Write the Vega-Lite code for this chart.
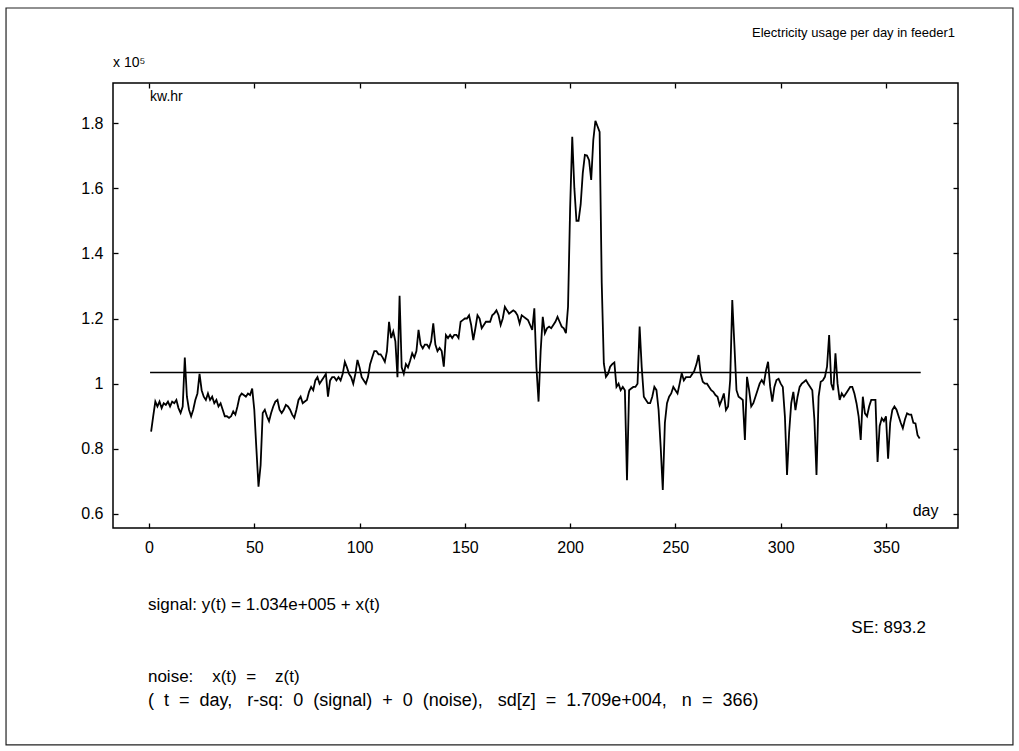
{
  "$schema": "https://vega.github.io/schema/vega-lite/v6.json",
  "autosize": "none",
  "width": 845,
  "height": 445,
  "padding": {"left": 113, "top": 83, "right": 61, "bottom": 223},
  "background": "white",
  "config": {
    "view": {"stroke": "black", "strokeWidth": 1.5},
    "font": "Liberation Sans",
    "axis": {"grid": false, "labelFont": "Liberation Sans", "labelFontSize": 16, "labelColor": "black", "tickColor": "black", "tickWidth": 1.3, "domain": false, "titleFont": "Liberation Sans", "titleFontWeight": "normal", "titleColor": "black"},
    "text": {"font": "Liberation Sans", "color": "black"}
  },
  "datasets": {
    "one": [{}],
    "usage": [
    {"day":1,"kwh":85300},{"day":2,"kwh":90000},{"day":3,"kwh":94500},{"day":4,"kwh":93000},{"day":5,"kwh":94500},{"day":6,"kwh":92500},{"day":7,"kwh":94000},{"day":8,"kwh":93500},{"day":9,"kwh":94500},{"day":10,"kwh":93000},
    {"day":11,"kwh":94500},{"day":12,"kwh":94000},{"day":13,"kwh":95000},{"day":14,"kwh":92500},{"day":15,"kwh":91000},{"day":16,"kwh":93000},{"day":17,"kwh":108000},{"day":18,"kwh":96000},{"day":19,"kwh":92000},{"day":20,"kwh":90000},
    {"day":21,"kwh":92000},{"day":22,"kwh":95000},{"day":23,"kwh":97000},{"day":24,"kwh":103000},{"day":25,"kwh":98000},{"day":26,"kwh":96000},{"day":27,"kwh":95000},{"day":28,"kwh":97000},{"day":29,"kwh":95000},{"day":30,"kwh":96000},
    {"day":31,"kwh":94000},{"day":32,"kwh":95000},{"day":33,"kwh":93000},{"day":34,"kwh":94000},{"day":35,"kwh":92000},{"day":36,"kwh":90000},{"day":37,"kwh":90000},{"day":38,"kwh":89500},{"day":39,"kwh":90000},{"day":40,"kwh":91500},
    {"day":41,"kwh":90500},{"day":42,"kwh":93000},{"day":43,"kwh":96000},{"day":44,"kwh":97000},{"day":45,"kwh":96500},{"day":46,"kwh":96000},{"day":47,"kwh":97000},{"day":48,"kwh":96500},{"day":49,"kwh":98500},{"day":50,"kwh":92000},
    {"day":51,"kwh":80000},{"day":52,"kwh":68400},{"day":53,"kwh":75000},{"day":54,"kwh":91000},{"day":55,"kwh":92000},{"day":56,"kwh":90000},{"day":57,"kwh":88500},{"day":58,"kwh":91000},{"day":59,"kwh":93000},{"day":60,"kwh":94500},
    {"day":61,"kwh":95000},{"day":62,"kwh":92000},{"day":63,"kwh":91000},{"day":64,"kwh":92000},{"day":65,"kwh":93500},{"day":66,"kwh":93000},{"day":67,"kwh":92000},{"day":68,"kwh":90500},{"day":69,"kwh":89500},{"day":70,"kwh":92000},
    {"day":71,"kwh":95000},{"day":72,"kwh":96000},{"day":73,"kwh":94000},{"day":74,"kwh":94500},{"day":75,"kwh":95000},{"day":76,"kwh":97500},{"day":77,"kwh":99000},{"day":78,"kwh":98000},{"day":79,"kwh":101000},{"day":80,"kwh":102000},
    {"day":81,"kwh":100000},{"day":82,"kwh":101000},{"day":83,"kwh":102000},{"day":84,"kwh":103000},{"day":85,"kwh":96000},{"day":86,"kwh":101000},{"day":87,"kwh":102000},{"day":88,"kwh":102000},{"day":89,"kwh":101000},{"day":90,"kwh":102000},
    {"day":91,"kwh":101000},{"day":92,"kwh":103000},{"day":93,"kwh":106700},{"day":94,"kwh":105000},{"day":95,"kwh":103000},{"day":96,"kwh":102000},{"day":97,"kwh":100000},{"day":98,"kwh":103000},{"day":99,"kwh":107300},{"day":100,"kwh":105000},
    {"day":101,"kwh":102000},{"day":102,"kwh":101000},{"day":103,"kwh":100000},{"day":104,"kwh":102000},{"day":105,"kwh":106000},{"day":106,"kwh":108000},{"day":107,"kwh":110000},{"day":108,"kwh":110000},{"day":109,"kwh":109000},{"day":110,"kwh":109000},
    {"day":111,"kwh":108000},{"day":112,"kwh":106700},{"day":113,"kwh":110000},{"day":114,"kwh":119000},{"day":115,"kwh":114000},{"day":116,"kwh":116000},{"day":117,"kwh":113000},{"day":118,"kwh":102000},{"day":119,"kwh":127000},{"day":120,"kwh":105000},
    {"day":121,"kwh":103000},{"day":122,"kwh":106000},{"day":123,"kwh":105000},{"day":124,"kwh":107000},{"day":125,"kwh":109300},{"day":126,"kwh":108000},{"day":127,"kwh":110000},{"day":128,"kwh":116500},{"day":129,"kwh":112000},{"day":130,"kwh":110800},
    {"day":131,"kwh":112000},{"day":132,"kwh":112000},{"day":133,"kwh":111000},{"day":134,"kwh":113000},{"day":135,"kwh":118500},{"day":136,"kwh":112000},{"day":137,"kwh":110000},{"day":138,"kwh":111000},{"day":139,"kwh":110000},{"day":140,"kwh":105200},
    {"day":141,"kwh":114900},{"day":142,"kwh":114000},{"day":143,"kwh":115000},{"day":144,"kwh":114000},{"day":145,"kwh":115000},{"day":146,"kwh":115000},{"day":147,"kwh":114000},{"day":148,"kwh":119000},{"day":149,"kwh":119500},{"day":150,"kwh":120000},
    {"day":151,"kwh":120000},{"day":152,"kwh":121000},{"day":153,"kwh":118000},{"day":154,"kwh":113400},{"day":155,"kwh":117000},{"day":156,"kwh":121000},{"day":157,"kwh":120000},{"day":158,"kwh":117000},{"day":159,"kwh":118000},{"day":160,"kwh":119000},
    {"day":161,"kwh":119000},{"day":162,"kwh":119000},{"day":163,"kwh":121000},{"day":164,"kwh":121600},{"day":165,"kwh":122500},{"day":166,"kwh":121000},{"day":167,"kwh":118000},{"day":168,"kwh":120000},{"day":169,"kwh":123600},{"day":170,"kwh":122500},
    {"day":171,"kwh":121500},{"day":172,"kwh":122000},{"day":173,"kwh":122500},{"day":174,"kwh":122000},{"day":175,"kwh":121000},{"day":176,"kwh":118500},{"day":177,"kwh":121000},{"day":178,"kwh":120500},{"day":179,"kwh":120000},{"day":180,"kwh":119500},
    {"day":181,"kwh":118000},{"day":182,"kwh":116500},{"day":183,"kwh":123100},{"day":184,"kwh":105000},{"day":185,"kwh":94500},{"day":186,"kwh":110000},{"day":187,"kwh":120500},{"day":188,"kwh":115500},{"day":189,"kwh":117000},{"day":190,"kwh":117500},
    {"day":191,"kwh":117000},{"day":192,"kwh":118000},{"day":193,"kwh":119000},{"day":194,"kwh":120500},{"day":195,"kwh":119000},{"day":196,"kwh":117500},{"day":197,"kwh":117000},{"day":198,"kwh":115500},{"day":199,"kwh":123600},{"day":200,"kwh":154000},
    {"day":201,"kwh":175800},{"day":202,"kwh":160000},{"day":203,"kwh":150000},{"day":204,"kwh":150000},{"day":205,"kwh":155000},{"day":206,"kwh":164600},{"day":207,"kwh":170200},{"day":208,"kwh":170000},{"day":209,"kwh":168600},{"day":210,"kwh":162500},
    {"day":211,"kwh":174800},{"day":212,"kwh":180700},{"day":213,"kwh":179000},{"day":214,"kwh":177300},{"day":215,"kwh":131000},{"day":216,"kwh":106200},{"day":217,"kwh":102100},{"day":218,"kwh":103000},{"day":219,"kwh":105200},{"day":220,"kwh":106000},
    {"day":221,"kwh":106500},{"day":222,"kwh":99000},{"day":223,"kwh":100000},{"day":224,"kwh":98000},{"day":225,"kwh":99000},{"day":226,"kwh":98000},{"day":227,"kwh":70400},{"day":228,"kwh":98000},{"day":229,"kwh":98500},{"day":230,"kwh":99000},
    {"day":231,"kwh":99000},{"day":232,"kwh":100000},{"day":233,"kwh":117500},{"day":234,"kwh":105000},{"day":235,"kwh":96000},{"day":236,"kwh":95000},{"day":237,"kwh":94000},{"day":238,"kwh":94000},{"day":239,"kwh":96000},{"day":240,"kwh":99000},
    {"day":241,"kwh":98000},{"day":242,"kwh":92000},{"day":243,"kwh":80600},{"day":244,"kwh":67400},{"day":245,"kwh":88000},{"day":246,"kwh":94000},{"day":247,"kwh":96000},{"day":248,"kwh":97000},{"day":249,"kwh":99000},{"day":250,"kwh":98000},
    {"day":251,"kwh":97000},{"day":252,"kwh":100000},{"day":253,"kwh":103200},{"day":254,"kwh":101000},{"day":255,"kwh":102000},{"day":256,"kwh":102000},{"day":257,"kwh":102000},{"day":258,"kwh":103000},{"day":259,"kwh":104000},{"day":260,"kwh":106000},
    {"day":261,"kwh":108800},{"day":262,"kwh":103000},{"day":263,"kwh":100600},{"day":264,"kwh":100000},{"day":265,"kwh":100000},{"day":266,"kwh":99000},{"day":267,"kwh":98000},{"day":268,"kwh":97500},{"day":269,"kwh":96500},{"day":270,"kwh":96000},
    {"day":271,"kwh":93400},{"day":272,"kwh":95000},{"day":273,"kwh":97000},{"day":274,"kwh":91900},{"day":275,"kwh":93000},{"day":276,"kwh":101100},{"day":277,"kwh":125700},{"day":278,"kwh":112000},{"day":279,"kwh":98000},{"day":280,"kwh":96000},
    {"day":281,"kwh":95500},{"day":282,"kwh":95000},{"day":283,"kwh":82700},{"day":284,"kwh":102100},{"day":285,"kwh":98000},{"day":286,"kwh":93000},{"day":287,"kwh":94000},{"day":288,"kwh":96000},{"day":289,"kwh":98000},{"day":290,"kwh":100000},
    {"day":291,"kwh":101100},{"day":292,"kwh":100000},{"day":293,"kwh":104000},{"day":294,"kwh":106700},{"day":295,"kwh":99000},{"day":296,"kwh":94500},{"day":297,"kwh":99000},{"day":298,"kwh":101100},{"day":299,"kwh":101500},{"day":300,"kwh":100000},
    {"day":301,"kwh":99000},{"day":302,"kwh":89900},{"day":303,"kwh":72000},{"day":304,"kwh":85000},{"day":305,"kwh":94000},{"day":306,"kwh":97500},{"day":307,"kwh":91900},{"day":308,"kwh":96000},{"day":309,"kwh":99000},{"day":310,"kwh":100000},
    {"day":311,"kwh":100500},{"day":312,"kwh":101100},{"day":313,"kwh":100000},{"day":314,"kwh":99000},{"day":315,"kwh":98000},{"day":316,"kwh":89000},{"day":317,"kwh":72000},{"day":318,"kwh":96000},{"day":319,"kwh":100600},{"day":320,"kwh":101000},
    {"day":321,"kwh":102100},{"day":322,"kwh":105200},{"day":323,"kwh":114900},{"day":324,"kwh":100000},{"day":325,"kwh":98000},{"day":326,"kwh":109300},{"day":327,"kwh":100000},{"day":328,"kwh":95000},{"day":329,"kwh":97000},{"day":330,"kwh":96000},
    {"day":331,"kwh":97000},{"day":332,"kwh":98000},{"day":333,"kwh":99000},{"day":334,"kwh":99000},{"day":335,"kwh":97000},{"day":336,"kwh":94000},{"day":337,"kwh":90000},{"day":338,"kwh":82700},{"day":339,"kwh":96000},{"day":340,"kwh":90900},
    {"day":341,"kwh":90000},{"day":342,"kwh":93000},{"day":343,"kwh":95000},{"day":344,"kwh":95000},{"day":345,"kwh":95000},{"day":346,"kwh":76000},{"day":347,"kwh":87000},{"day":348,"kwh":89400},{"day":349,"kwh":88500},{"day":350,"kwh":90000},
    {"day":351,"kwh":77000},{"day":352,"kwh":88000},{"day":353,"kwh":91900},{"day":354,"kwh":93000},{"day":355,"kwh":92000},{"day":356,"kwh":90000},{"day":357,"kwh":88000},{"day":358,"kwh":86300},{"day":359,"kwh":89000},{"day":360,"kwh":90900},
    {"day":361,"kwh":90500},{"day":362,"kwh":90500},{"day":363,"kwh":88000},{"day":364,"kwh":87800},{"day":365,"kwh":84200},{"day":366,"kwh":83200}
    ]
  },
  "resolve": {"axis": {"x": "independent", "y": "independent"}},
  "layer": [
    {
      "data": {"name": "usage"},
      "mark": {"type": "line", "color": "black", "strokeWidth": 1.8},
      "encoding": {
        "x": {"field": "day", "type": "quantitative", "scale": {"domain": [-17.1, 384.2], "nice": false, "zero": false},
              "axis": {"orient": "bottom", "values": [0,50,100,150,200,250,300,350], "tickSize": -5, "labelPadding": 16,
                       "title": "day", "titleFontSize": 16, "titleAlign": "right", "titleBaseline": "alphabetic", "titleX": 825, "titleY": -13}},
        "y": {"field": "kwh", "type": "quantitative", "scale": {"domain": [55700, 192280], "nice": false, "zero": false},
              "axis": {"orient": "left", "values": [60000,80000,100000,120000,140000,160000,180000], "tickSize": -5, "labelPadding": 15,
                       "labelExpr": "format(datum.value / 100000, '.1~f')", "title": null}}
      }
    },
    {
      "data": {"name": "one"},
      "mark": {"type": "rule", "color": "black", "strokeWidth": 1.5},
      "encoding": {
        "x": {"datum": 0.5, "type": "quantitative", "axis": {"orient": "top", "values": [0,50,100,150,200,250,300,350], "tickSize": -5, "labels": false, "title": null}},
        "x2": {"datum": 366.5},
        "y": {"datum": 103400, "type": "quantitative", "axis": {"orient": "right", "values": [60000,80000,100000,120000,140000,160000,180000], "tickSize": -5, "labels": false, "title": null}}
      }
    },
    {
      "data": {"name": "one"},
      "mark": {"type": "rect", "fill": null, "fillOpacity": 0, "stroke": "#222222", "strokeWidth": 1.2},
      "encoding": {
        "x": {"datum": -67.9, "type": "quantitative", "axis": null},
        "x2": {"datum": 410.3},
        "y": {"datum": 215298, "type": "quantitative", "axis": null},
        "y2": {"datum": -10888}
      }
    },
    {
      "data": {"name": "one"},
      "mark": {"type": "text", "text": "Electricity usage per day in feeder1", "align": "right", "baseline": "middle", "fontSize": 13},
      "encoding": {"x": {"datum": 382.8, "type": "quantitative", "axis": null}, "y": {"datum": 207625, "type": "quantitative", "axis": null}}
    },
    {
      "data": {"name": "one"},
      "mark": {"type": "text", "text": "x 10⁵", "align": "left", "baseline": "middle", "fontSize": 14},
      "encoding": {"x": {"datum": -17.1, "type": "quantitative", "axis": null}, "y": {"datum": 198418, "type": "quantitative", "axis": null}}
    },
    {
      "data": {"name": "one"},
      "mark": {"type": "text", "text": "kw.hr", "align": "left", "baseline": "middle", "fontSize": 14},
      "encoding": {"x": {"datum": 0.5, "type": "quantitative", "axis": null}, "y": {"datum": 187983, "type": "quantitative", "axis": null}}
    },
    {
      "data": {"name": "one"},
      "mark": {"type": "text", "text": "signal: y(t) = 1.034e+005 + x(t)", "align": "left", "baseline": "middle", "fontSize": 17},
      "encoding": {"x": {"datum": -0.5, "type": "quantitative", "axis": null}, "y": {"datum": 32078, "type": "quantitative", "axis": null}}
    },
    {
      "data": {"name": "one"},
      "mark": {"type": "text", "text": "SE: 893.2", "align": "right", "baseline": "middle", "fontSize": 17},
      "encoding": {"x": {"datum": 369, "type": "quantitative", "axis": null}, "y": {"datum": 25020, "type": "quantitative", "axis": null}}
    },
    {
      "data": {"name": "one"},
      "mark": {"type": "text", "text": "noise:\u00a0\u00a0\u00a0\u00a0x(t)\u00a0\u00a0=\u00a0\u00a0\u00a0\u00a0z(t)", "align": "left", "baseline": "middle", "fontSize": 17},
      "encoding": {"x": {"datum": -0.5, "type": "quantitative", "axis": null}, "y": {"datum": 9981, "type": "quantitative", "axis": null}}
    },
    {
      "data": {"name": "one"},
      "mark": {"type": "text", "text": "(\u00a0\u00a0t\u00a0\u00a0=\u00a0\u00a0day,\u00a0\u00a0\u00a0r-sq:\u00a0\u00a00\u00a0\u00a0(signal)\u00a0\u00a0+\u00a0\u00a00\u00a0\u00a0(noise),\u00a0\u00a0\u00a0sd[z]\u00a0\u00a0=\u00a0\u00a01.709e+004,\u00a0\u00a0\u00a0n\u00a0\u00a0=\u00a0\u00a0366)", "align": "left", "baseline": "middle", "fontSize": 18},
      "encoding": {"x": {"datum": -0.5, "type": "quantitative", "axis": null}, "y": {"datum": 2616, "type": "quantitative", "axis": null}}
    }
  ]
}
